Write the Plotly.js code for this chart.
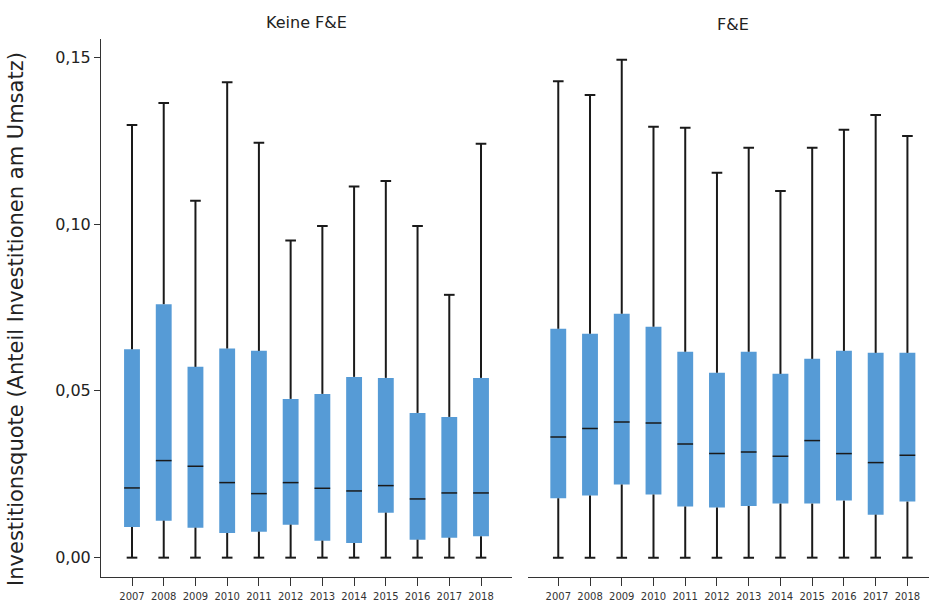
<!DOCTYPE html>
<html>
<head>
<meta charset="utf-8">
<script src="https://cdn.plot.ly/plotly-3.0.1.min.js"></script>
<style>html,body{margin:0;padding:0;background:#fff;}#chart{width:929px;height:603px;}</style>
</head>
<body>
<div id="chart"></div>
<script>
// Categories
const years = ['2007','2008','2009','2010','2011','2012','2013','2014','2015','2016','2017','2018'];

// Panel "Keine F&E"
const keineUpper  = [0.1297,0.1363,0.1070,0.1425,0.1244,0.0951,0.0994,0.1113,0.1129,0.0994,0.0788,0.1241];
const keineQ3     = [0.0625,0.0760,0.0572,0.0627,0.0620,0.0476,0.0491,0.0542,0.0539,0.0434,0.0422,0.0539];
const keineMedian = [0.0209,0.0291,0.0274,0.0225,0.0192,0.0225,0.0208,0.0200,0.0216,0.0176,0.0194,0.0194];
const keineQ1     = [0.0092,0.0111,0.0090,0.0074,0.0078,0.0099,0.0051,0.0044,0.0135,0.0054,0.0060,0.0064];
const keineLower  = [0,0,0,0,0,0,0,0,0,0,0,0];

// Panel "F&E"
const feUpper  = [0.1428,0.1387,0.1493,0.1292,0.1289,0.1154,0.1229,0.1099,0.1229,0.1283,0.1327,0.1264];
const feQ3     = [0.0686,0.0671,0.0731,0.0692,0.0617,0.0554,0.0617,0.0551,0.0596,0.0620,0.0614,0.0614];
const feMedian = [0.0362,0.0387,0.0407,0.0404,0.0341,0.0312,0.0317,0.0304,0.0351,0.0312,0.0285,0.0307];
const feQ1     = [0.0178,0.0186,0.0219,0.0189,0.0153,0.0150,0.0155,0.0162,0.0162,0.0171,0.0129,0.0168];
const feLower  = [0,0,0,0,0,0,0,0,0,0,0,0];

const panelTitles = ['Keine F&E', 'F&E'];
const yTitle = 'Investitionsquote (Anteil Investitionen am Umsatz)';

const BLUE = '#569bd6';
const INK = '#1a1a1a';

function panelTraces(upper, q3, med, q1, lower, xa, ya) {
  const wx = [], wy = [];
  years.forEach((yr, i) => {
    wx.push(yr, yr, null, yr, yr, null);
    wy.push(q3[i], upper[i], null, q1[i], lower[i], null);
  });
  return [
    { type: 'bar', x: years, base: q1, y: q3.map((v, i) => v - q1[i]),
      width: 0.5, marker: { color: BLUE, line: { width: 0 } },
      xaxis: xa, yaxis: ya, hoverinfo: 'skip', showlegend: false },
    { type: 'scatter', mode: 'lines', x: wx, y: wy, connectgaps: false,
      line: { color: INK, width: 2 }, xaxis: xa, yaxis: ya, hoverinfo: 'skip', showlegend: false },
    { type: 'scatter', mode: 'markers', x: years.concat(years), y: upper.concat(lower),
      marker: { symbol: 'line-ew', size: 7.6, line: { color: INK, width: 2 } },
      xaxis: xa, yaxis: ya, hoverinfo: 'skip', showlegend: false },
    { type: 'scatter', mode: 'markers', x: years, y: med,
      marker: { symbol: 'line-ew', size: 11.2, line: { color: INK, width: 1.5 } },
      xaxis: xa, yaxis: ya, hoverinfo: 'skip', showlegend: false }
  ];
}

const data = [].concat(
  panelTraces(keineUpper, keineQ3, keineMedian, keineQ1, keineLower, 'x', 'y'),
  panelTraces(feUpper, feQ3, feMedian, feQ1, feLower, 'x2', 'y2')
);

const yRange = [-0.0058, 0.1555];
const xCommon = {
  type: 'category', categoryorder: 'array', categoryarray: years,
  showline: true, linecolor: '#333', linewidth: 1,
  ticks: 'outside', ticklen: 8, tickcolor: '#333', tickwidth: 1,
  ticklabelstandoff: 2,
  showgrid: false, zeroline: false, fixedrange: true,
  tickfont: { size: 10, color: '#333' }
};

const layout = {
  width: 929, height: 603,
  margin: { l: 101, r: 0, t: 39, b: 26 },
  paper_bgcolor: '#fff', plot_bgcolor: '#fff',
  font: { family: 'DejaVu Sans, sans-serif', color: '#222' },
  separators: ',.',
  barmode: 'overlay',
  showlegend: false,
  xaxis: Object.assign({}, xCommon, { domain: [0, 0.496], range: [-0.977, 11.967], anchor: 'y' }),
  xaxis2: Object.assign({}, xCommon, { domain: [0.5153, 1], range: [-0.964, 11.68], anchor: 'y2' }),
  yaxis: {
    range: yRange, dtick: 0.05, tick0: 0, tickformat: '.2f',
    showline: true, linecolor: '#333', linewidth: 1,
    ticks: 'outside', ticklen: 6, tickcolor: '#333',
    showgrid: false, zeroline: false, fixedrange: true,
    tickfont: { size: 16, color: '#222' },
    anchor: 'x', automargin: false
  },
  yaxis2: {
    range: yRange, anchor: 'x2', visible: false, showgrid: false, zeroline: false, fixedrange: true
  },
  annotations: [
    { text: panelTitles[0], xref: 'paper', yref: 'paper', x: 0.248, y: 1, yshift: 17,
      xanchor: 'center', yanchor: 'middle', showarrow: false, font: { size: 16, color: '#222' } },
    { text: panelTitles[1], xref: 'paper', yref: 'paper', x: 0.763, y: 1, yshift: 15,
      xanchor: 'center', yanchor: 'middle', showarrow: false, font: { size: 16, color: '#222' } },
    { text: yTitle, xref: 'paper', yref: 'paper', x: -0.1027, y: 0.4796, textangle: -90,
      xanchor: 'center', yanchor: 'middle', showarrow: false, font: { size: 21, color: '#222' } }
  ]
};

Plotly.newPlot('chart', data, layout, { displayModeBar: false, staticPlot: true });
</script>
</body>
</html>
